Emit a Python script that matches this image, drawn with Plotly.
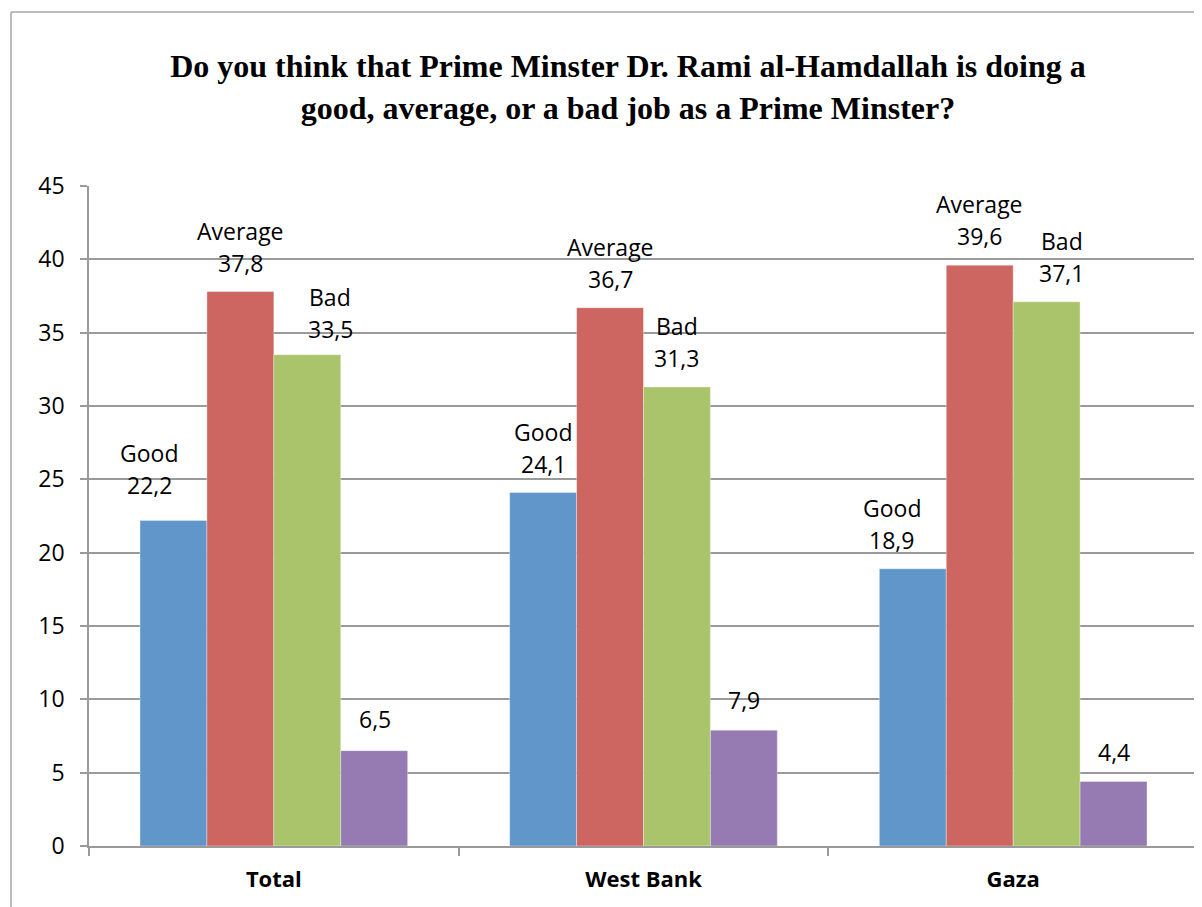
import plotly.graph_objects as go

categories = ["Total", "West Bank", "Gaza"]
series_names = ["Good", "Average", "Bad", ""]
good = [22.2, 24.1, 18.9]
average = [37.8, 36.7, 39.6]
bad = [33.5, 31.3, 37.1]
no_answer = [6.5, 7.9, 4.4]
y_ticks = [0, 5, 10, 15, 20, 25, 30, 35, 40, 45]

colors = ["#6096C9", "#CD6661", "#AAC46B", "#957BB1"]
# pixel nudges of the data labels (per series, per category)
label_dx = [[-24, 0, -21], [0, 0, 0], [23, 0, 15], [1, 0, 0]]
label_dy = [[6, 0, 0], [0, 0, 0], [-3, 0, 0], [3, 1, 0]]

all_series = [good, average, bad, no_answer]

OFF = 8  # page body margin
W, H = 1202 - OFF, 907 - OFF
L, T = 89 - OFF, 186 - OFF
R = W - (1198 - OFF)
B = H - (846 - OFF)
bargap = 0.276

fig = go.Figure()
for name, vals, col in zip(series_names, all_series, colors):
    fig.add_trace(go.Bar(x=categories, y=vals, name=name or "No answer",
                         marker=dict(color=col, line=dict(color="rgba(255,255,255,0.35)", width=1))))

FONT = "Open Sans, Lato, sans-serif"
label_font = dict(family=FONT, size=23, color="#000")
bw = (1 - bargap) / 4
for j, (name, vals) in enumerate(zip(series_names, all_series)):
    for i, v in enumerate(vals):
        xc = i + (j - 1.5) * bw
        txt = f"{v:.1f}".replace(".", ",")
        dy = 29 + label_dy[j][i]
        fig.add_annotation(x=xc, y=v, xref="x", yref="y", text=txt, showarrow=False,
                           xshift=label_dx[j][i], yshift=dy, yanchor="middle", font=label_font)
        if name:
            fig.add_annotation(x=xc, y=v, xref="x", yref="y", text=name, showarrow=False,
                               xshift=label_dx[j][i], yshift=dy + 32, yanchor="middle", font=label_font)

pw = W - L - R
ph = H - T - B
def px2x(px):
    return (px - OFF - L) / pw
def py2y(py):
    return (H - B - (py - OFF)) / ph

# outer frame
fig.add_shape(type="line", xref="paper", yref="paper", x0=px2x(11), x1=px2x(11), y0=py2y(12), y1=py2y(915),
              line=dict(color="#a6a6a6", width=1.5))
fig.add_shape(type="line", xref="paper", yref="paper", x0=px2x(11), x1=px2x(1210), y0=py2y(12), y1=py2y(12),
              line=dict(color="#a6a6a6", width=1.5))

fig.update_layout(
    width=W, height=H,
    margin=dict(l=L, r=R, t=T, b=B),
    paper_bgcolor="white", plot_bgcolor="white",
    barmode="group", bargap=bargap, bargroupgap=0,
    showlegend=False,
    title=dict(text="Do you think that Prime Minster Dr. Rami al-Hamdallah is doing a<br>good, average, or a bad job as a Prime Minster?",
               x=(628 - OFF) / W, xanchor="center", y=1 - (77 - OFF) / H, yanchor="middle",
               font=dict(family="Liberation Serif, serif", size=32, color="#000", weight="bold")),
    xaxis=dict(showline=True, linecolor="#9a9a9a", linewidth=1.5, ticks="outside", tickson="boundaries",
               ticklen=8, tickcolor="#9a9a9a", tickwidth=1.5, ticklabelstandoff=13,
               tickfont=dict(family=FONT, size=22, color="#000", weight="bold"),
               showgrid=False),
    yaxis=dict(range=[0, 45], tickvals=y_ticks, showline=True, linecolor="#9a9a9a", linewidth=1.5,
               ticks="outside", ticklen=7, tickcolor="#9a9a9a", tickwidth=1.5,
               showgrid=True, gridcolor="#9a9a9a", gridwidth=1.5, zeroline=False,
               ticklabelstandoff=11,
               tickfont=dict(family=FONT, size=23, color="#000")),
)

fig.write_html("out.html")
